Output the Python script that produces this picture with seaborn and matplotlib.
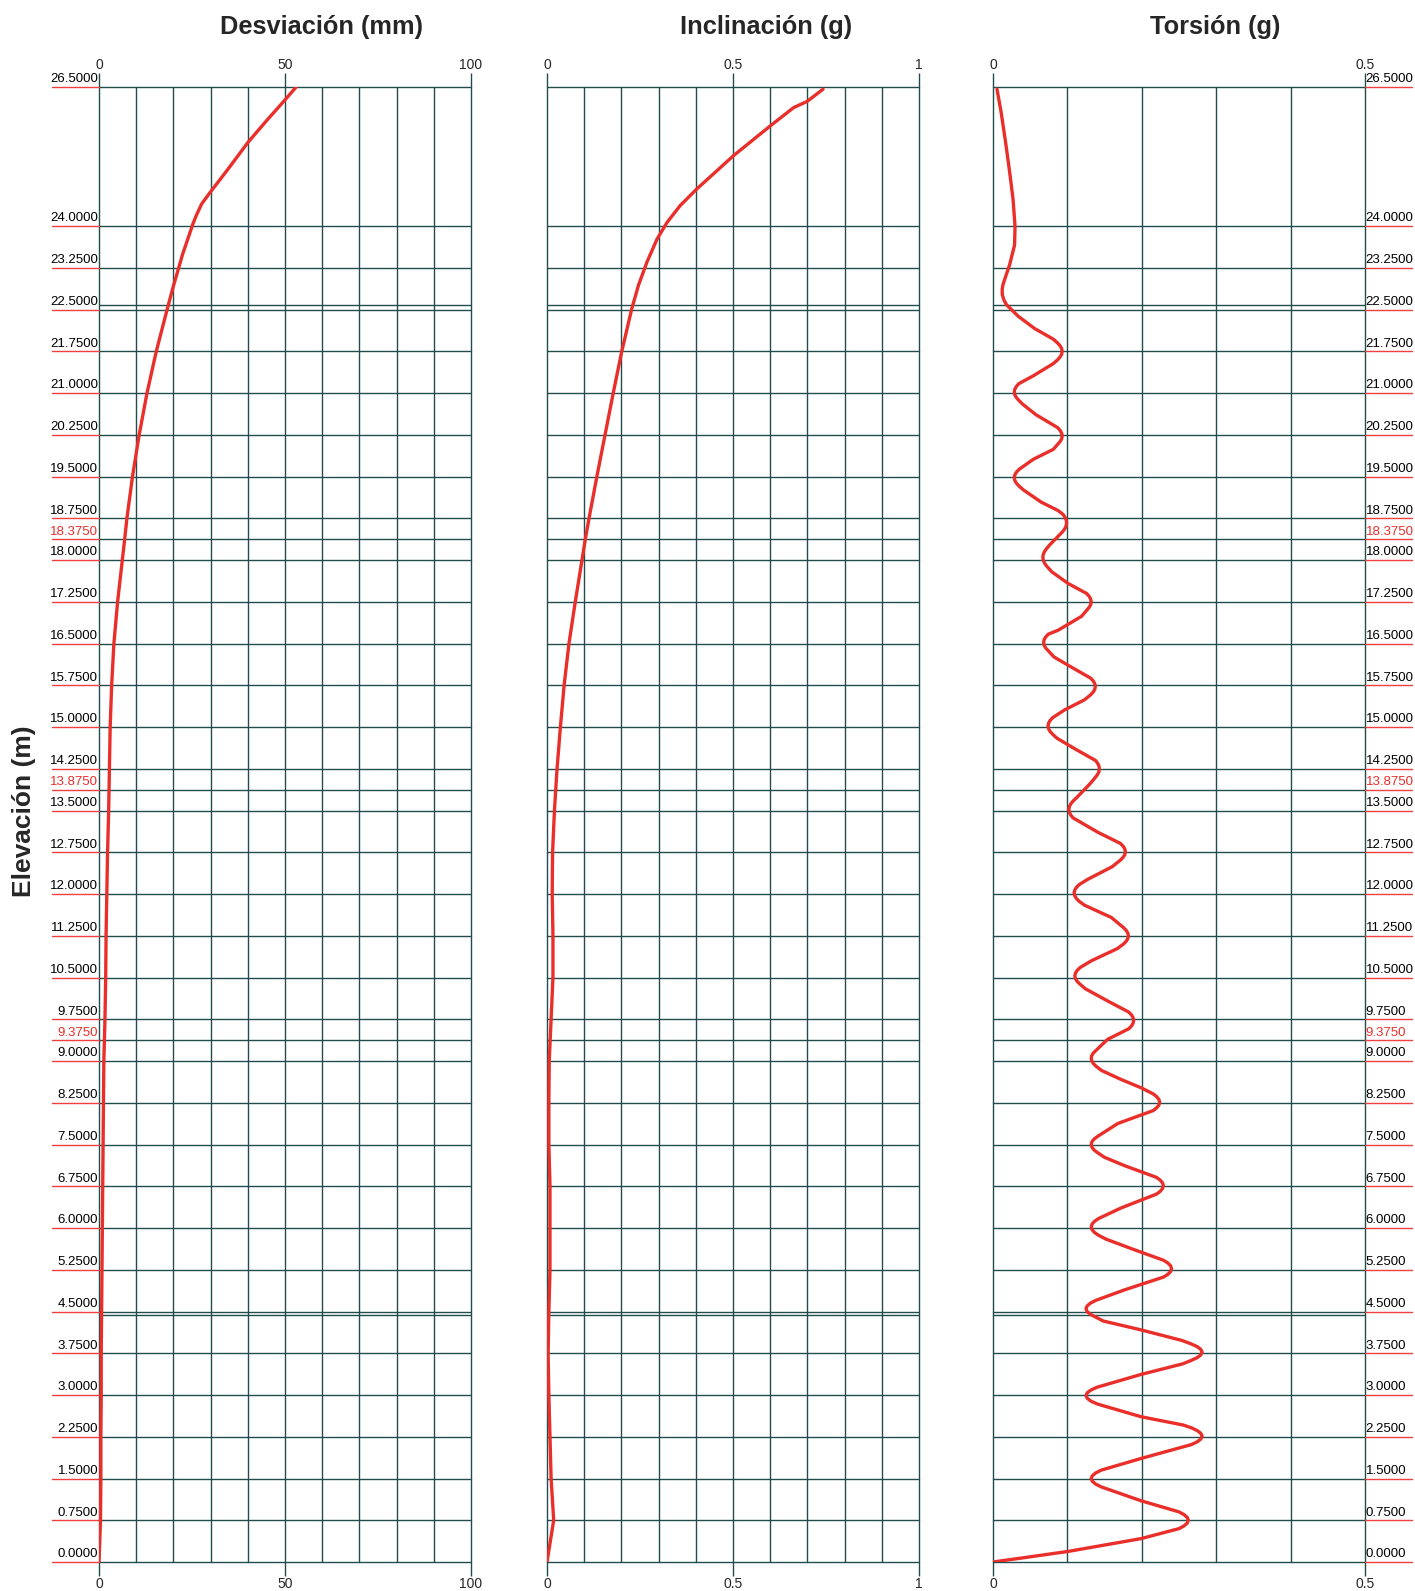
import numpy as np
import pandas as pd
import matplotlib.pyplot as plt
import seaborn as sns
from matplotlib import transforms

sns.set_style("white")
plt.rcParams['font.family'] = ['Liberation Sans', 'DejaVu Sans']

# niveles con etiqueta (m)
niveles = [26.5, 24.0, 23.25, 22.5, 21.75, 21.0, 20.25, 19.5, 18.75, 18.375, 18.0,
           17.25, 16.5, 15.75, 15.0, 14.25, 13.875, 13.5, 12.75, 12.0, 11.25, 10.5,
           9.75, 9.375, 9.0, 8.25, 7.5, 6.75, 6.0, 5.25, 4.5, 3.75, 3.0, 2.25, 1.5,
           0.75, 0.0]
niveles_rojos = [18.375, 13.875, 9.375]
niveles_extra = [22.584, 4.43]

# Desviacion (mm)
elev_desv = [26.5, 26.23, 25.9, 25.51, 25.0, 24.6, 24.4, 24.2, 24.05, 23.5, 22.9, 22.5,
             21.75, 21.0, 20.25, 19.5, 18.75, 18.375, 17.25, 16.5, 15.75, 15.0, 14.25,
             13.5, 12.75, 12.0, 11.25, 10.5, 9.75, 9.0, 8.25, 7.5, 6.75, 6.0, 5.25,
             4.5, 3.75, 3.0, 2.25, 1.5, 0.75, 0.0]
desv = [53.0, 49.5, 45.1, 40.1, 34.4, 29.8, 27.6, 26.2, 25.3, 22.5, 19.9, 18.3,
        15.4, 12.9, 10.8, 9.0, 7.5, 6.9, 5.0, 4.0, 3.4, 3.0, 2.8,
        2.6, 2.3, 2.1, 1.9, 1.8, 1.6, 1.3, 1.2, 1.1, 1.0, 0.9, 0.8,
        0.7, 0.6, 0.6, 0.5, 0.5, 0.4, 0.0]

# Inclinacion (g)
elev_incl = [26.46, 26.24, 26.13, 25.80, 25.27, 24.67, 24.37, 24.07, 23.77, 23.36,
             22.94, 22.52, 21.72, 21.0, 20.25, 19.5, 18.75, 18.375, 17.25, 16.5,
             15.75, 15.0, 14.25, 13.5, 12.75, 12.0, 11.25, 10.5, 9.75, 9.0, 8.25,
             7.5, 6.75, 6.0, 5.25, 4.5, 3.75, 3.0, 2.25, 1.5, 0.75, 0.0]
incl = [0.742, 0.699, 0.663, 0.600, 0.502, 0.403, 0.358, 0.323, 0.296, 0.269,
        0.246, 0.228, 0.200, 0.178, 0.156, 0.134, 0.113, 0.103, 0.076, 0.059,
        0.046, 0.036, 0.027, 0.020, 0.015, 0.014, 0.016, 0.016, 0.011, 0.006, 0.005,
        0.005, 0.008, 0.008, 0.008, 0.005, 0.003, 0.005, 0.008, 0.011, 0.018, 0.0]

# Torsion (g)
elev_tors = [26.46, 26.04, 25.5, 24.97, 24.49, 24.0, 23.66, 23.31, 22.95, 22.86,
             22.77, 22.68, 22.59, 22.38, 22.16, 21.97,
             21.90, 21.85, 21.80, 21.75, 21.70, 21.65, 21.60,
             21.53, 21.31,
             21.17, 21.12, 21.07, 21.02, 20.97, 20.92, 20.87,
             20.80, 20.61,
             20.38, 20.33, 20.28, 20.23, 20.18, 20.13, 20.08,
             19.99, 19.81,
             19.63, 19.58, 19.53, 19.48, 19.43, 19.38, 19.33,
             19.26, 19.04, 18.89,
             18.82, 18.77, 18.72, 18.67, 18.62, 18.57, 18.52,
             18.45, 18.27,
             18.20, 18.15, 18.10, 18.05, 18.00, 17.95, 17.90,
             17.79, 17.58,
             17.40, 17.35, 17.30, 17.25, 17.20, 17.15, 17.10,
             16.99, 16.74,
             16.67, 16.62, 16.57, 16.52, 16.47, 16.42, 16.37,
             16.26, 16.08,
             15.88, 15.83, 15.78, 15.73, 15.68, 15.63, 15.58,
             15.49, 15.31,
             15.17, 15.12, 15.07, 15.02, 14.97, 14.92, 14.87,
             14.80, 14.61,
             14.40, 14.35, 14.30, 14.25, 14.20, 14.15, 14.10,
             13.99, 13.74,
             13.67, 13.62, 13.57, 13.52, 13.47, 13.42, 13.37,
             13.11,
             12.91, 12.86, 12.81, 12.76, 12.71, 12.66, 12.61,
             12.49, 12.27,
             12.17, 12.12, 12.07, 12.02, 11.97, 11.92, 11.87,
             11.80, 11.58,
             11.40, 11.35, 11.30, 11.25, 11.20, 11.15, 11.10,
             11.02, 10.80,
             10.68, 10.63, 10.58, 10.53, 10.48, 10.43, 10.38,
             10.30, 10.08,
             9.88, 9.83, 9.78, 9.73, 9.68, 9.63, 9.58,
             9.39,
             9.20, 9.15, 9.10, 9.05, 9.00, 8.95, 8.90,
             8.83, 8.67, 8.52,
             8.41, 8.36, 8.31, 8.26, 8.21, 8.16, 8.11,
             7.88,
             7.65, 7.60, 7.55, 7.50, 7.45, 7.40, 7.35,
             7.27, 7.12,
             6.91, 6.86, 6.81, 6.76, 6.71, 6.66, 6.61,
             6.36,
             6.17, 6.12, 6.07, 6.02, 5.97, 5.92, 5.87,
             5.80, 5.61,
             5.42, 5.37, 5.32, 5.27, 5.22, 5.17, 5.12,
             4.89,
             4.70, 4.65, 4.60, 4.55, 4.50, 4.45, 4.40,
             4.33, 4.17, 3.98,
             3.92, 3.87, 3.82, 3.77, 3.72, 3.67, 3.62,
             3.56, 3.37,
             3.14, 3.09, 3.04, 2.99, 2.94, 2.89, 2.84,
             2.61, 2.46,
             2.41, 2.36, 2.31, 2.26, 2.21, 2.16, 2.11,
             1.86,
             1.65, 1.60, 1.55, 1.50, 1.45, 1.40, 1.35,
             1.10,
             0.90, 0.85, 0.80, 0.75, 0.70, 0.65, 0.60,
             0.42, 0.19, 0.08, 0.0]
tors = [0.0054, 0.011, 0.017, 0.0224, 0.0269, 0.0296, 0.029, 0.0224, 0.0134, 0.0123,
        0.0125, 0.0145, 0.018, 0.034, 0.056, 0.081,
        0.0869, 0.0902, 0.0923, 0.093, 0.0923, 0.0902, 0.0869,
        0.081, 0.054,
        0.0347, 0.0314, 0.0293, 0.0286, 0.0293, 0.0314, 0.0347,
        0.040, 0.058,
        0.0869, 0.0902, 0.0923, 0.093, 0.0923, 0.0902, 0.0869,
        0.081, 0.054,
        0.0350, 0.0315, 0.0293, 0.0286, 0.0293, 0.0315, 0.0350,
        0.041, 0.065, 0.0875,
        0.0942, 0.0968, 0.0984, 0.099, 0.0984, 0.0968, 0.0942,
        0.089, 0.076,
        0.0716, 0.0691, 0.0675, 0.067, 0.0675, 0.0691, 0.0716,
        0.079, 0.101,
        0.1259, 0.1292, 0.1313, 0.132, 0.1313, 0.1292, 0.1259,
        0.119, 0.0875,
        0.0744, 0.0709, 0.0687, 0.068, 0.0687, 0.0709, 0.0744,
        0.082, 0.105,
        0.1312, 0.1347, 0.1368, 0.1375, 0.1368, 0.1347, 0.1312,
        0.123, 0.0964,
        0.0803, 0.0768, 0.0747, 0.074, 0.0747, 0.0768, 0.0803,
        0.086, 0.110,
        0.1378, 0.1406, 0.1424, 0.143, 0.1424, 0.1406, 0.1378,
        0.131, 0.113,
        0.1075, 0.1045, 0.1026, 0.102, 0.1026, 0.1045, 0.1075,
        0.141,
        0.1712, 0.1749, 0.1772, 0.178, 0.1772, 0.1749, 0.1712,
        0.160, 0.128,
        0.1158, 0.1121, 0.1098, 0.109, 0.1098, 0.1121, 0.1158,
        0.123, 0.159,
        0.1752, 0.1789, 0.1812, 0.182, 0.1812, 0.1789, 0.1752,
        0.167, 0.132,
        0.1171, 0.1132, 0.1108, 0.110, 0.1108, 0.1132, 0.1171,
        0.124, 0.154,
        0.1825, 0.1861, 0.1883, 0.189, 0.1883, 0.1861, 0.1825,
        0.154,
        0.1391, 0.1352, 0.1328, 0.132, 0.1328, 0.1352, 0.1391,
        0.146, 0.172, 0.199,
        0.2153, 0.2200, 0.2230, 0.224, 0.2230, 0.2200, 0.2153,
        0.168,
        0.1410, 0.1360, 0.1330, 0.132, 0.1330, 0.1360, 0.1410,
        0.150, 0.177,
        0.2198, 0.2248, 0.2279, 0.229, 0.2279, 0.2248, 0.2198,
        0.172,
        0.1418, 0.1364, 0.1331, 0.132, 0.1331, 0.1364, 0.1418,
        0.152, 0.190,
        0.2294, 0.2352, 0.2388, 0.240, 0.2388, 0.2352, 0.2294,
        0.177,
        0.1380, 0.1309, 0.1265, 0.125, 0.1265, 0.1309, 0.1380,
        0.148, 0.199, 0.254,
        0.2661, 0.2743, 0.2793, 0.281, 0.2793, 0.2743, 0.2661,
        0.255, 0.199,
        0.1399, 0.1317, 0.1267, 0.125, 0.1267, 0.1317, 0.1399,
        0.199, 0.256,
        0.2668, 0.2746, 0.2794, 0.281, 0.2794, 0.2746, 0.2668,
        0.199,
        0.1454, 0.1380, 0.1335, 0.132, 0.1335, 0.1380, 0.1454,
        0.199,
        0.2501, 0.2569, 0.2611, 0.2625, 0.2611, 0.2569, 0.2501,
        0.199, 0.101, 0.043, 0.0]

titulos = ['Desviación (mm)', 'Inclinación (g)', 'Torsión (g)']
xmax = [100, 1, 0.5]
xticks = [[0, 50, 100], [0, 0.5, 1], [0, 0.5]]
xticklabels = [['0', '50', '100'], ['0', '0.5', '1'], ['0', '0.5']]
paso = [10, 0.1, 0.1]

ROJO = '#ea2e2a'
GRID = '#234d4d'
W, H = 1415, 1591

fig = plt.figure(figsize=(W / 100, H / 100), dpi=100)
lefts = [99, 547, 993]
titulo_x = [321, 766, 1215]
datos = [(desv, elev_desv), (incl, elev_incl), (tors, elev_tors)]

axes = []
for i in range(3):
    ax = fig.add_axes([lefts[i] / W, (H - 1562) / H, 372 / W, 1475 / H])
    df = pd.DataFrame({'x': datos[i][0], 'y': datos[i][1]})
    sns.lineplot(data=df, x='x', y='y', orient='y', estimator=None, ax=ax,
                 color=ROJO, lw=2.4, zorder=5, solid_joinstyle='round',
                 solid_capstyle='round')
    ax.set_xlim(0, xmax[i])
    ax.set_ylim(0, 26.5)
    for v in np.arange(0, xmax[i] + paso[i] / 2, paso[i]):
        ax.axvline(v, color=GRID, lw=1.0, zorder=1, clip_on=False)
    for h in niveles + niveles_extra:
        ax.axhline(h, color=GRID, lw=1.0, zorder=1, clip_on=False)
    for s in ax.spines.values():
        s.set_visible(False)
    ax.set_yticks([])
    ax.set_xlabel('')
    ax.set_ylabel('')
    ax.set_xticks(xticks[i])
    ax.set_xticklabels(xticklabels[i])
    ax.tick_params(axis='x', bottom=True, length=10, width=1, color=GRID,
                   labelsize=10, pad=0.5)
    top = ax.secondary_xaxis('top')
    top.set_xticks(xticks[i])
    top.set_xticklabels(xticklabels[i])
    top.tick_params(axis='x', length=10, width=1, color=GRID, labelsize=10, pad=1)
    for s in top.spines.values():
        s.set_visible(False)
    fig.text(titulo_x[i] / W, 1 - 27 / H, titulos[i], ha='center', va='center',
             fontsize=18.3, fontweight='bold')
    axes.append(ax)

# etiquetas de elevacion a la izquierda y a la derecha
for ax, lado in [(axes[0], 'izq'), (axes[2], 'der')]:
    trans = transforms.blended_transform_factory(ax.transAxes, ax.transData)
    for h in niveles:
        col = ROJO if h in niveles_rojos else 'black'
        txt = '%.4f' % h
        if lado == 'izq':
            ax.text(-0.002, h + 0.03, txt, transform=trans, ha='right', va='bottom',
                    fontsize=9.5, color=col)
            ax.plot([-0.127, 0], [h, h], transform=trans, color='#f04040', lw=1,
                    clip_on=False)
        else:
            ax.text(1.002, h + 0.03, txt, transform=trans, ha='left', va='bottom',
                    fontsize=9.5, color=col)
            ax.plot([1, 1.127], [h, h], transform=trans, color='#f04040', lw=1,
                    clip_on=False)

fig.text(24 / W, 1 - 811 / H, 'Elevación (m)', rotation=90, ha='center', va='center',
         fontsize=19, fontweight='bold')

fig.savefig('out.png', dpi=100)
